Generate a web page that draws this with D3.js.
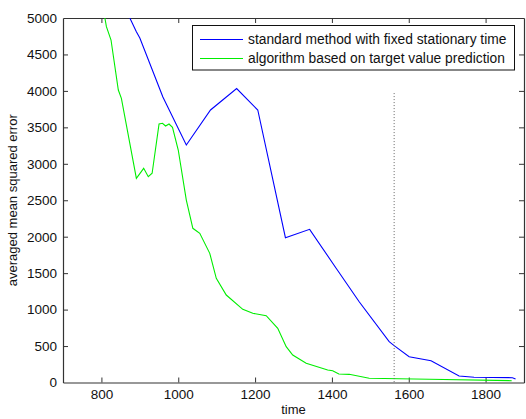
<!DOCTYPE html>
<html>
<head>
<meta charset="utf-8">
<script src="https://cdn.jsdelivr.net/npm/d3@7"></script>
<style>
html,body{margin:0;padding:0;background:#fff;}
svg{display:block;font-family:"Liberation Sans",Arial,sans-serif;}
</style>
</head>
<body>
<svg id="chart" width="526" height="419"></svg>
<script>
// ---- data ----
const standardTime = [874, 891, 900, 960, 1021, 1084, 1152, 1207, 1279, 1342, 1411, 1471, 1549, 1562, 1601, 1658, 1731, 1770, 1870, 1878];
const standardMSE  = [5000, 4812, 4726, 3916, 3258, 3738, 4033, 3738, 1986, 2101, 1567, 1108, 560, 505, 354, 299, 89, 71, 66, 48];
const predictionTime = [809, 813, 825, 844, 852, 891, 910, 922, 932, 950, 959, 967, 976, 985, 1000, 1021, 1038, 1056, 1082, 1099, 1125, 1168, 1194, 1229, 1259, 1281, 1298, 1333, 1389, 1402, 1418, 1445, 1497, 1653, 1868];
const predictionMSE  = [5000, 4881, 4698, 4012, 3898, 2801, 2938, 2823, 2870, 3546, 3556, 3519, 3546, 3501, 3189, 2503, 2115, 2047, 1772, 1429, 1200, 1004, 949, 916, 743, 491, 377, 263, 171, 162, 117, 112, 58, 44, 25];
const markerTime = 1562;
const markerTop = 3970;
const xTicks = [800, 1000, 1200, 1400, 1600, 1800];
const yTicks = [0, 500, 1000, 1500, 2000, 2500, 3000, 3500, 4000, 4500, 5000];
const seriesNames = ["standard method with fixed stationary time", "algorithm based on target value prediction"];
const seriesColors = ["#0000ff", "#00ee00"];
const xLabel = "time";
const yLabel = "averaged mean squared error";

// ---- layout ----
const L = 63, R = 524, T = 18, B = 382.5;
const svg = d3.select("#chart");
const x = d3.scaleLinear().domain([700, 1900]).range([L, R]);
const y = d3.scaleLinear().domain([0, 5000]).range([B, T]);

svg.append("defs").append("clipPath").attr("id", "clip")
  .append("rect").attr("x", L).attr("y", T).attr("width", R - L).attr("height", B - T);

const axisColor = "#333";
const tickFont = "13.5px";
const fmt = d3.format("d");

// axes (MATLAB style: ticks inside, box)
const gx = svg.append("g").attr("transform", `translate(0,${B})`)
  .call(d3.axisBottom(x).tickValues(xTicks).tickFormat(fmt).tickSize(-5).tickPadding(7).tickSizeOuter(0));
const gxt = svg.append("g").attr("transform", `translate(0,${T})`)
  .call(d3.axisTop(x).tickValues(xTicks).tickSize(-5).tickFormat("").tickSizeOuter(0));
const gy = svg.append("g").attr("transform", `translate(${L},0)`)
  .call(d3.axisLeft(y).tickValues(yTicks).tickFormat(fmt).tickSize(-5).tickPadding(6).tickSizeOuter(0));
const gyr = svg.append("g").attr("transform", `translate(${R},0)`)
  .call(d3.axisRight(y).tickValues(yTicks).tickSize(-5).tickFormat("").tickSizeOuter(0));

[gx, gxt, gy, gyr].forEach(g => {
  g.select(".domain").attr("stroke", axisColor).attr("stroke-width", 1.2);
  g.selectAll(".tick line").attr("stroke", axisColor);
  g.selectAll(".tick text").attr("fill", "#111").style("font-size", tickFont)
    .style("font-family", "'Liberation Sans',Arial,sans-serif");
});
gy.selectAll(".tick").filter(d => d === 0 || d === 5000).select("line").remove();
gyr.selectAll(".tick").filter(d => d === 0 || d === 5000).select("line").remove();

// axis labels
svg.append("text").attr("x", (L + R) / 2).attr("y", 414).attr("text-anchor", "middle")
  .style("font-size", "13px").attr("fill", "#111").text(xLabel);
svg.append("text").attr("transform", `translate(17,${(T + B) / 2}) rotate(-90)`)
  .attr("text-anchor", "middle").style("font-size", "13px").attr("fill", "#111").text(yLabel);

// lines
const plot = svg.append("g").attr("clip-path", "url(#clip)");
const line = d3.line().x(d => x(d[0])).y(d => y(d[1]));
const s1 = standardTime.map((t, i) => [t, standardMSE[i]]);
const s2 = predictionTime.map((t, i) => [t, predictionMSE[i]]);
plot.append("path").datum(s2).attr("d", line).attr("fill", "none")
  .attr("stroke", seriesColors[1]).attr("stroke-width", 1.1);
plot.append("path").datum(s1).attr("d", line).attr("fill", "none")
  .attr("stroke", seriesColors[0]).attr("stroke-width", 1.1);

// dotted marker line
plot.append("line").attr("x1", x(markerTime)).attr("x2", x(markerTime))
  .attr("y1", y(markerTop)).attr("y2", y(0))
  .attr("stroke", "#666").attr("stroke-width", 1).attr("stroke-dasharray", "1,2");

// legend
const lg = svg.append("g");
lg.append("rect").attr("x", 192.5).attr("y", 25.5).attr("width", 322).attr("height", 44.5)
  .attr("fill", "#fff").attr("stroke", "#111").attr("stroke-width", 1);
seriesNames.forEach((name, i) => {
  const yy = 39.5 + i * 19;
  lg.append("line").attr("x1", 200).attr("x2", 243).attr("y1", yy).attr("y2", yy)
    .attr("stroke", seriesColors[i]).attr("stroke-width", 1.1);
  lg.append("text").attr("x", 248).attr("y", yy + 4.5).style("font-size", "13.8px")
    .attr("fill", "#111").text(name);
});
</script>
</body>
</html>
